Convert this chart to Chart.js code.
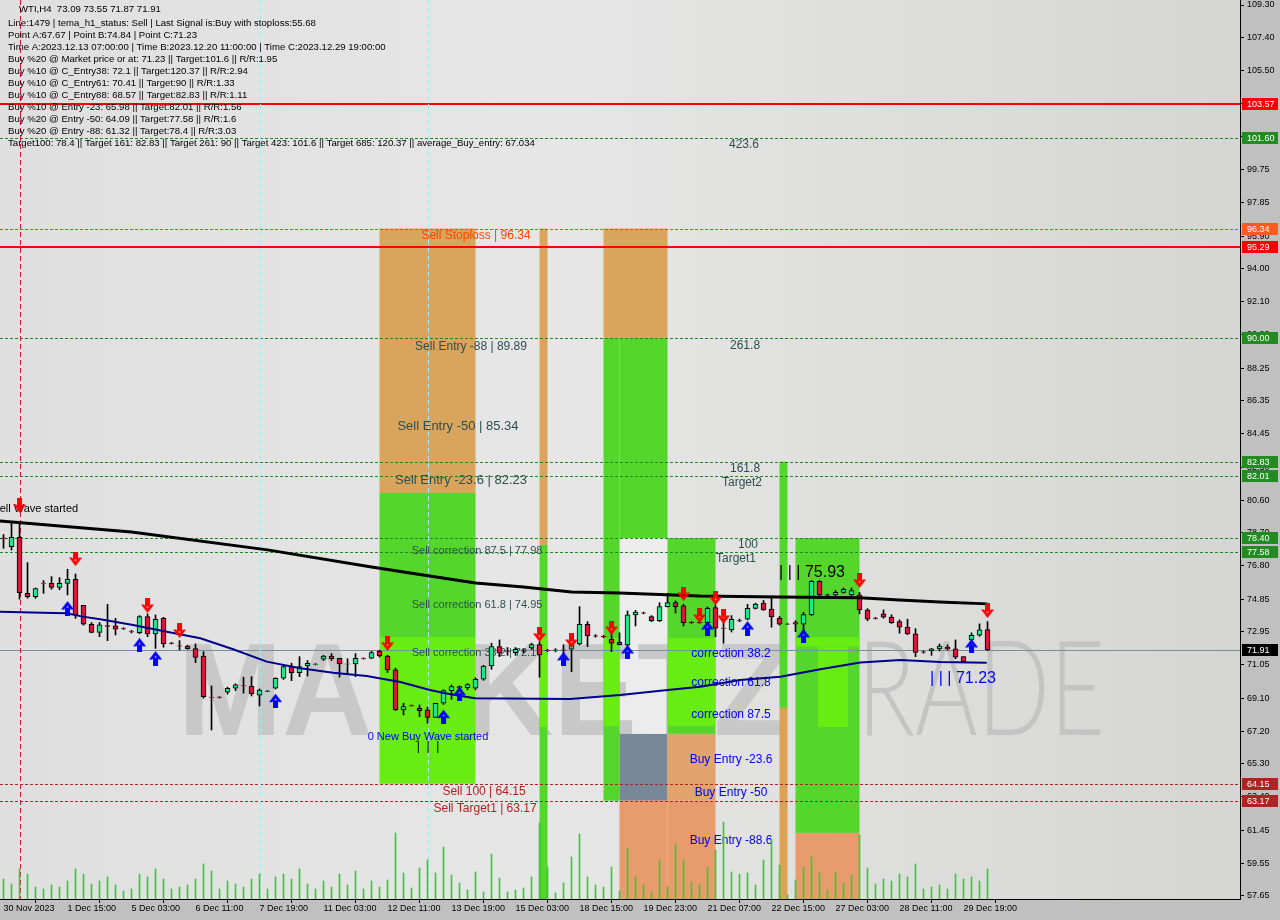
<!DOCTYPE html>
<html><head><meta charset="utf-8">
<script src="https://cdn.jsdelivr.net/npm/chart.js@4.4.0/dist/chart.umd.min.js"></script>
<style>html,body{margin:0;padding:0;background:#c0c0c0;overflow:hidden}</style>
</head><body>
<canvas id="c" width="1280" height="920"></canvas>
<script>
// ---------------- DATA ----------------
const openP  = [78.40,77.90,78.44,75.19,75.00,75.78,75.77,75.54,75.77,76.00,74.50,73.40,72.93,73.32,73.30,73.15,72.98,72.91,73.84,72.84,73.74,72.31,72.15,72.14,71.99,71.56,69.17,69.17,69.46,69.69,69.85,69.82,69.29,69.53,69.69,70.27,70.94,70.59,70.98,71.07,71.37,71.56,71.43,71.09,71.10,71.41,71.43,71.83,71.56,70.75,68.43,68.69,68.52,68.43,68.00,68.82,69.55,69.78,69.72,69.69,70.21,70.98,72.10,71.82,71.75,71.86,72.03,72.22,71.88,71.88,71.92,71.95,72.26,73.40,72.73,72.70,72.53,72.35,72.20,73.94,74.06,73.84,73.61,74.42,74.65,74.46,73.51,73.51,73.49,74.36,73.18,73.07,73.61,73.69,74.32,74.62,74.28,73.74,73.41,73.49,73.40,73.96,75.89,75.11,75.10,75.25,75.10,75.10,74.23,73.76,74.00,73.81,73.55,73.23,72.84,71.80,71.86,71.97,72.06,71.97,71.52,72.49,72.76,73.09];
const highP  = [78.60,79.35,79.30,76.97,75.50,75.93,76.16,76.10,76.59,76.31,74.50,73.50,73.50,74.55,73.74,73.20,73.05,73.90,74.00,73.94,73.80,72.35,72.45,72.18,72.26,71.81,69.82,69.20,69.75,69.95,70.33,70.36,69.65,69.56,70.30,71.00,71.14,71.52,71.29,71.12,71.60,71.70,71.43,71.40,71.70,71.45,71.83,71.90,71.60,70.85,68.82,68.72,68.72,68.60,68.82,69.60,69.88,69.82,69.95,70.30,71.02,72.30,72.49,72.05,72.05,71.95,72.30,72.38,71.95,71.98,72.20,72.30,74.42,73.55,72.80,72.75,72.97,72.90,74.17,74.20,74.10,73.90,74.65,75.19,74.75,74.55,73.55,73.60,74.40,74.52,73.75,73.90,73.70,74.55,74.62,74.78,74.91,73.85,73.44,73.60,74.10,75.93,75.93,75.15,75.35,75.50,75.50,75.25,74.30,73.80,74.23,73.95,73.65,73.69,73.14,71.85,72.00,72.25,72.20,72.49,71.52,72.90,73.42,73.55];
const lowP   = [77.80,77.70,74.85,74.91,74.90,75.19,75.43,75.40,75.10,73.74,73.35,72.90,72.68,72.45,72.78,73.10,72.90,72.85,72.68,72.00,72.07,72.25,71.91,71.95,71.17,69.11,67.27,69.12,69.35,69.55,69.40,69.24,68.66,69.49,69.65,70.20,70.13,70.36,70.40,71.04,71.30,71.30,70.33,70.50,70.36,71.38,71.40,71.50,70.60,68.40,68.14,68.65,68.04,67.66,68.00,68.75,69.05,69.65,69.60,69.60,70.15,70.79,71.52,71.60,71.60,71.75,71.95,70.33,71.80,71.80,71.40,70.65,72.20,72.10,72.65,72.62,71.81,72.20,72.10,73.30,74.00,73.55,73.55,74.40,74.05,73.30,73.45,73.45,73.45,72.68,72.30,72.95,73.55,73.65,74.28,74.20,73.23,73.35,73.38,72.97,72.85,73.90,75.05,75.05,75.05,75.20,75.00,74.00,73.60,73.70,73.75,73.45,72.88,72.80,71.52,71.72,71.60,71.85,71.90,71.40,71.20,71.90,72.70,71.87];
const closeP = [78.35,78.44,75.23,75.00,75.46,75.76,75.54,75.77,76.00,73.94,73.40,72.93,73.36,73.28,73.11,73.13,72.96,73.84,72.84,73.69,72.26,72.29,72.13,71.98,71.48,69.20,69.15,69.15,69.69,69.88,69.83,69.36,69.58,69.51,70.27,70.94,70.59,70.94,71.14,71.09,71.56,71.40,71.10,71.11,71.43,71.39,71.76,71.56,70.75,68.43,68.62,68.67,68.39,68.00,68.82,69.55,69.78,69.70,69.90,70.21,70.98,72.10,71.72,71.80,71.95,71.84,72.22,71.62,71.86,71.92,71.90,72.20,73.40,72.72,72.71,72.68,72.30,72.22,73.94,74.11,74.04,73.61,74.42,74.65,74.42,73.49,73.49,73.49,74.32,73.17,73.16,73.69,73.59,74.32,74.57,74.23,73.82,73.40,73.40,73.40,73.96,75.89,75.10,75.09,75.25,75.43,75.35,74.23,73.69,73.74,73.81,73.49,73.23,72.84,71.76,71.78,71.97,72.14,71.97,71.49,71.23,72.76,73.07,71.91];
const volume = [20,15,30,25,12,10,14,12,18,30,25,15,18,22,14,8,10,25,22,30,20,10,12,14,20,35,28,10,18,15,12,20,25,10,22,25,20,30,15,10,18,12,25,14,28,10,18,
  12,19,66,26,11,31,39,26,52,24,16,9,27,7,45,21,7,9,11,22,76,32,6,16,42,65,22,14,12,32,8,51,22,14,7,39,12,55,39,17,14,32,49,77,27,25,26,14,39,59,34,4,19,32,42,26,9,27,16,24,64,31,
  15,20,18,25,22,35,10,12,14,10,25,20,22,18,30];
// moving averages read at sample bars
const slowMaBar = [-0.44,16,33,46,50,59,65,71,77,87,97,107,112,117,123];
const slowMaVal = [79.39,78.75,77.71,76.72,76.43,75.79,75.56,75.27,75.21,75.04,74.98,74.93,74.81,74.69,74.58];
const navyMaBar = [-0.44,4.9,7.9,9.9,12.1,16.2,20.4,24.6,28.7,32.9,37.1,41.2,45.4,49.6,53.3,55.2,58.9,70.8,77.1,82.1,87.1,92.1,97.1,102.1,107.1,112.1,117.1,122.9];
const navyMaVal = [74.13,74.07,74.04,73.84,73.69,73.36,72.97,72.59,71.95,71.23,70.85,70.59,70.40,70.05,69.59,69.40,69.11,69.07,69.30,69.55,69.78,70.17,70.36,70.79,71.18,71.33,71.21,71.17];
// signals
const sellSigBar = [2,9,18,22,48,67,71,76,85,87,89,90,107,123];
const sellSigVal = [80.26,77.18,74.46,73.01,72.26,72.78,72.43,73.18,75.15,73.88,74.91,73.82,75.91,74.17];
const buySigBar  = [8,17,19,34,55,57,70,78,88,93,100,121];
const buySigVal  = [74.34,72.20,71.44,68.97,68.04,69.37,71.39,71.79,73.18,73.18,72.72,72.14];
// axes
const xTickBars   = [0,8,16,24,32,40,48,56,64,72,80,88,96,104,112,120];
const xTickLabels = ['30 Nov 2023','1 Dec 15:00','5 Dec 03:00','6 Dec 11:00','7 Dec 19:00','11 Dec 03:00','12 Dec 11:00','13 Dec 19:00','15 Dec 03:00','18 Dec 15:00','19 Dec 23:00','21 Dec 07:00','22 Dec 15:00','27 Dec 03:00','28 Dec 11:00','29 Dec 19:00'];
const yTickLabels = ['109.30','107.40','105.50','103.60','101.65','99.75','97.85','95.90','94.00','92.10','90.20','88.25','86.35','84.45','82.50','80.60','78.70','76.80','74.85','72.95','71.05','69.10','67.20','65.30','63.40','61.45','59.55','57.65'];
const yTickValues = yTickLabels.map(Number);
// levels
const redLevels   = [103.57, 95.29];
const greenLevels = [101.60, 90.00, 82.83, 82.01, 78.40, 77.58];
const stopLevels  = [96.34];
const sellTgtLevels = [64.15, 63.17];
const lastPrice = 71.91;
const infoLines = [
 'WTI,H4  73.09 73.55 71.87 71.91',
 'Line:1479 | tema_h1_status: Sell | Last Signal is:Buy with stoploss:55.68',
 'Point A:67.67 | Point B:74.84 | Point C:71.23',
 'Time A:2023.12.13 07:00:00 | Time B:2023.12.20 11:00:00 | Time C:2023.12.29 19:00:00',
 'Buy %20 @ Market price or at: 71.23 || Target:101.6 || R/R:1.95',
 'Buy %10 @ C_Entry38: 72.1 || Target:120.37 || R/R:2.94',
 'Buy %10 @ C_Entry61: 70.41 || Target:90 || R/R:1.33',
 'Buy %10 @ C_Entry88: 68.57 || Target:82.83 || R/R:1.11',
 'Buy %10 @ Entry -23: 65.98 || Target:82.01 || R/R:1.56',
 'Buy %20 @ Entry -50: 64.09 || Target:77.58 || R/R:1.6',
 'Buy %20 @ Entry -88: 61.32 || Target:78.4 || R/R:3.03',
 'Target100: 78.4 || Target 161: 82.83 || Target 261: 90 || Target 423: 101.6 || Target 685: 120.37 || average_Buy_entry: 67.034'
];

// ---------------- STYLE / OBJECTS ----------------
const Y_MIN = 57.47, Y_MAX = 109.59, X_MIN = -0.44, X_MAX = 154.56;
const GREEN = '#54d62c', BRIGHT = '#68ec12', TAN = '#d9a55c', SALMON = '#e89b6c', TAN2 = '#e0a46c', TAN3 = '#dca254', SLATE = '#778899';
const boxes = [
 [47,59,96.34,81.01,TAN],[47,59,81.01,72.66,GREEN],[47,59,72.66,64.15,BRIGHT],
 [67,68,96.34,78.0,TAN],[67,68,78.0,Y_MIN,GREEN],[67,68,72.66,67.45,BRIGHT],
 [75,83,96.34,90.0,TAN],[75,77,90.0,63.17,GREEN],[77,83,90.0,78.40,GREEN],[75,77,72.6,67.5,BRIGHT],
 [77,83,67.04,63.17,SLATE],[77,83,63.17,Y_MIN,SALMON],
 [83,89,78.40,67.04,GREEN],[83,89,72.6,67.5,BRIGHT],[83,89,67.04,63.17,TAN2],[83,89,63.17,Y_MIN,SALMON],
 [97,98,82.83,68.55,GREEN],[97,98,68.55,Y_MIN,TAN3],
 [99,107,78.40,61.30,GREEN],[99,107,72.66,72.1,BRIGHT],[101.8,105.56,72.1,67.45,BRIGHT],[99,107,61.30,Y_MIN,SALMON]
];
const lightBoxes = [[77,83,78.40,67.04,'#ececec']];
const DS = '#2f4f4f', BL = '#0000ff', FB = '#b22222';
const notes = [
 ['423.6',92.56,101.18,DS,12,'center'],['261.8',92.69,89.53,DS,12,'center'],['161.8',92.69,82.40,DS,12,'center'],
 ['Target2',92.31,81.59,DS,12,'center'],['100',93.06,78.0,DS,12,'center'],['Target1',91.56,77.18,DS,12,'center'],
 ['Sell Stoploss | 96.34',59.06,95.91,'#ff4500',12,'center'],
 ['Sell Entry -88 | 89.89',58.44,89.47,DS,12,'center'],
 ['Sell Entry -50 | 85.34',56.81,84.89,DS,13,'center'],
 ['Sell Entry -23.6 | 82.23',57.19,81.76,DS,13,'center'],
 ['Sell correction 87.5 | 77.98',59.19,77.65,DS,11,'center'],
 ['Sell correction 61.8 | 74.95',59.19,74.52,DS,11,'center'],
 ['Sell correction 38.2 | 72.17',59.19,71.73,DS,11,'center'],
 ['0 New Buy Wave started',53.06,66.87,BL,11,'center'],
 ['|  |  |',53.06,66.29,'#000',12,'center'],
 ['Sell 100 | 64.15',60.06,63.68,FB,12,'center'],
 ['Sell Target1 | 63.17',60.19,62.69,FB,12,'center'],
 ['correction 38.2',90.94,71.68,BL,12,'center'],['correction 61.8',90.94,69.99,BL,12,'center'],['correction 87.5',90.94,68.14,BL,12,'center'],
 ['Buy Entry -23.6',90.94,65.53,BL,12,'center'],['Buy Entry -50',90.94,63.62,BL,12,'center'],['Buy Entry -88.6',90.94,60.84,BL,12,'center'],
 ['| | | 75.93',101.06,76.37,'#000',16,'center'],
 ['| | | 71.23',119.94,70.23,BL,16,'center'],
 ['Sell Wave started',-1.4,80.08,'#000',11,'left']
];
const axisTags = [
 [103.57,'#ff0000'],[101.60,'#228b22'],[96.34,'#ff5a1e'],[95.29,'#ff0000'],[90.00,'#228b22'],
 [82.83,'#228b22'],[82.01,'#228b22'],[78.40,'#228b22'],[77.58,'#228b22'],[71.91,'#000000'],
 [64.15,'#b22222'],[63.17,'#b22222']
];

function makeArrow(color, down){
  const c = document.createElement('canvas'); c.width = 13; c.height = 15;
  const g = c.getContext('2d'); g.fillStyle = color;
  g.save(); if(!down){ g.translate(0,15); g.scale(1,-1); }
  g.fillRect(4,0,5,8);
  g.beginPath(); g.moveTo(0,6); g.lineTo(3,6); g.lineTo(6.5,9.5); g.lineTo(10,6); g.lineTo(13,6); g.lineTo(6.5,14.5); g.closePath(); g.fill();
  g.restore();
  return c;
}
const redArrow = makeArrow('#ff0000', true), blueArrow = makeArrow('#0000ff', false);

const FONT = '"Liberation Sans", Arial, sans-serif';

const decor = {
  id:'decor',
  beforeDraw(chart){
    const {ctx, chartArea:a} = chart;
    ctx.save();
    ctx.fillStyle = '#c0c0c0'; ctx.fillRect(0,0,chart.width,chart.height);
    const g = ctx.createLinearGradient(a.left,0,a.right,0);
    g.addColorStop(0,'#dfdfdf'); g.addColorStop(0.45,'#e6e6e6'); g.addColorStop(1,'#d5d5d3');
    ctx.fillStyle = g; ctx.fillRect(a.left,a.top,a.right-a.left,a.bottom-a.top);
    ctx.restore();
  },
  beforeDatasetsDraw(chart){
    const {ctx, chartArea:a, scales:{x,y}} = chart;
    ctx.save();
    ctx.beginPath(); ctx.rect(a.left,a.top,a.right-a.left,a.bottom-a.top); ctx.clip();
    const drawBox = b => { const x0=x.getPixelForValue(b[0]), x1=x.getPixelForValue(b[1]); const y0=y.getPixelForValue(b[2]), y1=y.getPixelForValue(b[3]); ctx.fillStyle=b[4]; ctx.fillRect(x0,y0,x1-x0,y1-y0); };
    lightBoxes.forEach(drawBox);
    // watermark
    const wmBase = y.getPixelForValue(67.0);
    ctx.fillStyle = '#c8c8c8';
    ctx.font = 'bold 132px ' + FONT; ctx.textBaseline = 'alphabetic'; ctx.textAlign = 'left';
    let w = ctx.measureText('MARKETZ').width;
    ctx.save(); ctx.translate(178, wmBase); ctx.scale(612/w, 1); ctx.fillText('MARKETZ',0,0); ctx.restore();
    ctx.fillStyle = '#c4c4c4';
    ctx.font = '300 132px Lato, ' + FONT;
    w = ctx.measureText('TRADE').width;
    ctx.save(); ctx.translate(802, wmBase); ctx.scale(303/w, 1); ctx.fillText('TRADE',0,0); ctx.restore();
    boxes.forEach(drawBox);
    // horizontal levels
    const hline = (p, color, width, dash) => { const py = Math.round(y.getPixelForValue(p)) + (width%2?0.5:0); ctx.beginPath(); ctx.setLineDash(dash); ctx.strokeStyle=color; ctx.lineWidth=width; ctx.moveTo(a.left,py); ctx.lineTo(a.right,py); ctx.stroke(); };
    greenLevels.forEach(p => hline(p,'#1f8a1f',1,[3,2]));
    stopLevels.forEach(p => hline(p,'#ff4500',1,[3,2]));
    sellTgtLevels.forEach(p => hline(p,'#b22222',1,[3,2]));
    hline(lastPrice,'#7a8ea0',1,[]);
    redLevels.forEach(p => hline(p,'#ff0000',2,[]));
    // vertical lines
    const vline = (k,color,dash) => { const px = Math.round(x.getPixelForValue(k))+0.5; ctx.beginPath(); ctx.setLineDash(dash); ctx.strokeStyle=color; ctx.lineWidth=1; ctx.moveTo(px,a.top); ctx.lineTo(px,a.bottom); ctx.stroke(); };
    vline(2,'#dc143c',[5,3]); vline(32,'#b0e4ec',[5,3]); vline(53,'#b0e4ec',[5,3]);
    ctx.setLineDash([]);
    // notes
    ctx.textBaseline = 'middle';
    notes.forEach(n => { ctx.font = n[4]+'px '+FONT; ctx.fillStyle = n[3]; ctx.textAlign = n[5]; ctx.fillText(n[0], x.getPixelForValue(n[1]), y.getPixelForValue(n[2])); });
    ctx.restore();
  },
  afterDraw(chart){
    const {ctx, chartArea:a, scales:{y}} = chart;
    ctx.save();
    ctx.font = '9px ' + FONT; ctx.textBaseline = 'middle'; ctx.textAlign = 'left';
    axisTags.forEach(t => { const py = Math.round(y.getPixelForValue(t[0])); ctx.fillStyle=t[1]; ctx.fillRect(a.right+2, py-6, 36, 12); ctx.fillStyle='#ffffff'; ctx.fillText(t[0].toFixed(2), a.right+7, py+0.5); });
    ctx.font = '9.6px ' + FONT; ctx.fillStyle = '#000';
    infoLines.forEach((s,i) => ctx.fillText(s, i===0?19:8, i===0 ? 9 : 23 + (i-1)*12));
    ctx.restore();
  }
};

const bars = openP.map((_,i)=>i);
Chart.defaults.font.family = FONT;
Chart.defaults.color = '#000';
new Chart(document.getElementById('c'), {
  type:'bar',
  data:{ datasets:[
    { type:'line', label:'sell', data: sellSigBar.map((b,i)=>({x:b,y:sellSigVal[i]})), showLine:false, pointStyle:redArrow, order:0 },
    { type:'line', label:'buy', data: buySigBar.map((b,i)=>({x:b,y:buySigVal[i]})), showLine:false, pointStyle:blueArrow, order:0 },
    { type:'line', label:'slow', data: slowMaBar.map((b,i)=>({x:b,y:slowMaVal[i]})), borderColor:'#000', borderWidth:3, pointRadius:0, order:1 },
    { type:'line', label:'navy', data: navyMaBar.map((b,i)=>({x:b,y:navyMaVal[i]})), borderColor:'#00008b', borderWidth:2, pointRadius:0, order:1 },
    { label:'body', data: bars.map(i=>({x:i,y:[Math.min(openP[i],closeP[i]),Math.max(openP[i],closeP[i])]})),
      backgroundColor: bars.map(i=> closeP[i]>=openP[i] ? '#1ee68c' : '#dc143c'), borderColor:'#000', borderWidth:1, borderSkipped:false, barThickness:5, grouped:false, order:2 },
    { label:'wick', data: bars.map(i=>({x:i,y:[lowP[i],highP[i]]})), backgroundColor:'#000', barThickness:1, grouped:false, order:3 },
    { label:'vol', data: bars.map(i=>({x:i,y:[0,volume[i]]})), yAxisID:'yv', backgroundColor:'#32cd32', barThickness:1, grouped:false, order:4 }
  ]},
  options:{
    responsive:false, animation:false, devicePixelRatio:1,
    layout:{padding:0, autoPadding:false},
    plugins:{legend:{display:false}, tooltip:{enabled:false}},
    scales:{
      x:{ type:'linear', min:X_MIN, max:X_MAX, offset:false, z:1,
          afterBuildTicks: s => { s.ticks = xTickBars.map(v=>({value:v})); },
          afterFit: s => { s.height = 21; s.paddingLeft = 0; s.paddingRight = 0; },
          ticks:{ autoSkip:false, maxRotation:0, minRotation:0, align:'start', padding:0, font:{size:9}, color:'#000', callback:(v,i)=>xTickLabels[i] },
          grid:{ drawOnChartArea:false, drawTicks:true, tickLength:4, color:'#000' },
          border:{ display:true, color:'#000', width:1 } },
      y:{ type:'linear', position:'right', min:Y_MIN, max:Y_MAX, z:1,
          afterBuildTicks: s => { s.ticks = yTickValues.map(v=>({value:v})); },
          afterFit: s => { s.width = 40; s.paddingTop = 0; s.paddingBottom = 0; },
          ticks:{ autoSkip:false, padding:3, font:{size:9}, color:'#000', callback:(v,i)=>yTickLabels[i] },
          grid:{ drawOnChartArea:false, drawTicks:true, tickLength:4, color:'#000' },
          border:{ display:true, color:'#000', width:1 } },
      yv:{ type:'linear', display:false, min:0, max:899 }
    }
  },
  plugins:[decor]
});
</script>
</body></html>
